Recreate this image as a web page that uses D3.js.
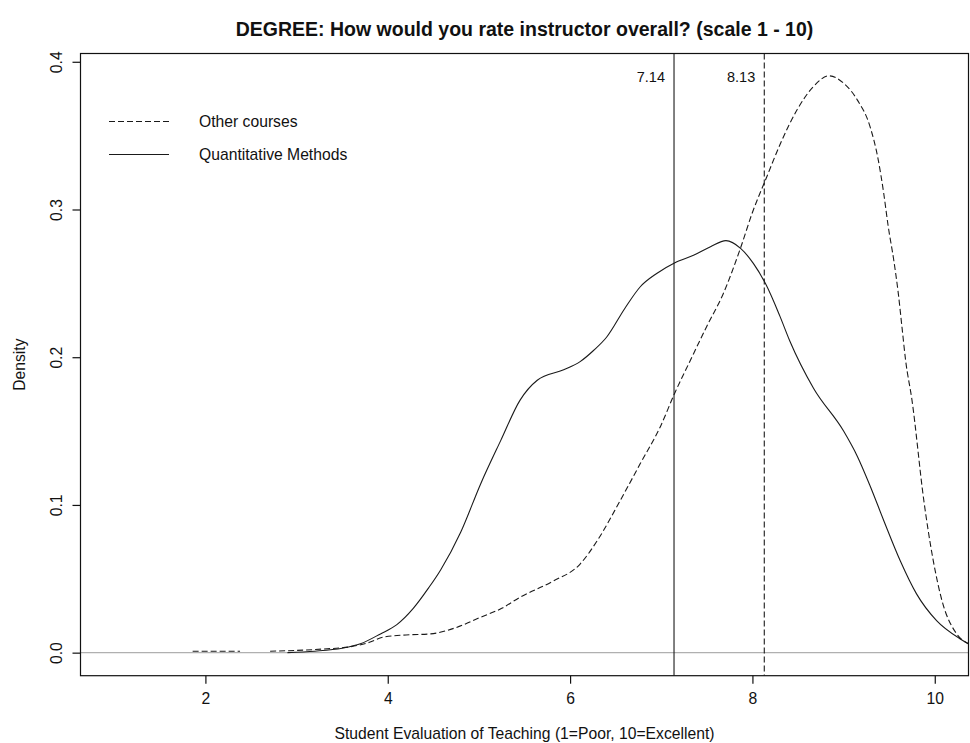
<!DOCTYPE html>
<html>
<head>
<meta charset="utf-8">
<script src="https://cdn.jsdelivr.net/npm/d3@7"></script>
<style>
  body { margin: 0; background: #fff; }
  text { font-family: "Liberation Sans", Arial, sans-serif; fill: #111; }
</style>
</head>
<body>
<div id="chart"></div>
<script>
var svgWidth = 970;
var svgHeight = 743;

// plot box (R style, box drawn around the region)
var box = { left: 80.5, right: 968.5, top: 53.5, bottom: 675.7 };

var titleText = "DEGREE: How would you rate instructor overall? (scale 1 - 10)";
var xTitle = "Student Evaluation of Teaching (1=Poor, 10=Excellent)";
var yTitle = "Density";

var xTicks = [2, 4, 6, 8, 10];
var yTicks = [0, 0.1, 0.2, 0.3, 0.4];

// Other courses (dashed) density, null = gap in the curve
var otherX = [1.86, 2.38, null, 2.71, 3.00, 3.30, 3.59, 3.80, 3.95, 4.20, 4.47, 4.75, 5.02, 5.25, 5.45, 5.80, 6.11, 6.30, 6.55, 6.77, 6.99, 7.15, 7.32, 7.50, 7.68, 7.87, 8.00, 8.15, 8.31, 8.49, 8.67, 8.84, 9.00, 9.15, 9.29, 9.38, 9.44, 9.49, 9.55, 9.60, 9.64, 9.68, 9.75, 9.88, 10.08, 10.24, 10.37, 10.50];
var otherY = [0.001, 0.001, null, 0.001, 0.0015, 0.0025, 0.004, 0.007, 0.0105, 0.012, 0.0127, 0.017, 0.024, 0.030, 0.0375, 0.048, 0.060, 0.076, 0.103, 0.128, 0.153, 0.176, 0.198, 0.221, 0.243, 0.274, 0.298, 0.321, 0.345, 0.3675, 0.3833, 0.3905, 0.3855, 0.3742, 0.3561, 0.3336, 0.311, 0.2883, 0.2658, 0.2432, 0.2206, 0.198, 0.171, 0.103, 0.035, 0.0127, 0.0059, 0.002];

// Quantitative Methods (solid) density
var quantX = [2.90, 3.20, 3.50, 3.70, 3.92, 4.10, 4.28, 4.45, 4.58, 4.80, 5.02, 5.24, 5.45, 5.64, 5.93, 6.11, 6.26, 6.40, 6.60, 6.77, 6.95, 7.15, 7.36, 7.54, 7.71, 7.87, 8.01, 8.15, 8.30, 8.41, 8.67, 9.00, 9.15, 9.29, 9.44, 9.62, 9.80, 10.02, 10.28, 10.37, 10.50];
var quantY = [0.000, 0.001, 0.003, 0.006, 0.0127, 0.019, 0.030, 0.044, 0.056, 0.0815, 0.1144, 0.1437, 0.1708, 0.1844, 0.1915, 0.197, 0.2047, 0.2135, 0.233, 0.2477, 0.2567, 0.264, 0.2692, 0.2748, 0.2789, 0.2737, 0.2635, 0.249, 0.228, 0.211, 0.179, 0.150, 0.133, 0.113, 0.0895, 0.0624, 0.0398, 0.0217, 0.0093, 0.006, 0.003];

var quantMean = 7.14;
var otherMean = 8.13;

var legendLabels = ["Other courses", "Quantitative Methods"];
var legendDash = ["6,3", null];

var svg = d3.select("#chart")
            .append("svg")
            .attr("width", svgWidth)
            .attr("height", svgHeight);

var x = d3.scaleLinear().domain([0.63, 10.37]).range([box.left, box.right]);
var y = d3.scaleLinear().domain([-0.0156, 0.4056]).range([box.bottom, box.top]);

svg.append("clipPath").attr("id", "plotclip")
   .append("rect")
   .attr("x", box.left).attr("y", box.top)
   .attr("width", box.right - box.left).attr("height", box.bottom - box.top);

var plot = svg.append("g").attr("clip-path", "url(#plotclip)");

// zero reference line
plot.append("line")
    .attr("x1", box.left).attr("x2", box.right)
    .attr("y1", y(0)).attr("y2", y(0))
    .attr("stroke", "#b0b0b0").attr("stroke-width", 1.2);

function toPoints(xs, ys) {
    return xs.map((d, i) => d === null ? null : [d, ys[i]]);
}

var line = d3.line()
             .defined(d => d !== null)
             .x(d => x(d[0]))
             .y(d => y(d[1]))
             .curve(d3.curveMonotoneX);

plot.append("path")
    .attr("d", line(toPoints(otherX, otherY)))
    .attr("fill", "none").attr("stroke", "#1a1a1a").attr("stroke-width", 1.1)
    .attr("stroke-dasharray", "6,3");

plot.append("path")
    .attr("d", line(toPoints(quantX, quantY)))
    .attr("fill", "none").attr("stroke", "#1a1a1a").attr("stroke-width", 1.1);

// mean lines
plot.append("line")
    .attr("x1", x(quantMean)).attr("x2", x(quantMean))
    .attr("y1", box.top).attr("y2", box.bottom)
    .attr("stroke", "#1a1a1a").attr("stroke-width", 1.1);
plot.append("line")
    .attr("x1", x(otherMean)).attr("x2", x(otherMean))
    .attr("y1", box.top).attr("y2", box.bottom)
    .attr("stroke", "#1a1a1a").attr("stroke-width", 1.1)
    .attr("stroke-dasharray", "6,3");

svg.append("text")
   .attr("x", x(quantMean) - 9).attr("y", 82)
   .attr("text-anchor", "end").attr("font-size", "14.5px")
   .text(quantMean.toFixed(2));
svg.append("text")
   .attr("x", x(otherMean) - 9).attr("y", 82)
   .attr("text-anchor", "end").attr("font-size", "14.5px")
   .text(otherMean.toFixed(2));

// box
svg.append("rect")
   .attr("x", box.left).attr("y", box.top)
   .attr("width", box.right - box.left).attr("height", box.bottom - box.top)
   .attr("fill", "none").attr("stroke", "#111").attr("stroke-width", 1.2);

// axes
var bottomAxis = d3.axisBottom(x).tickValues(xTicks).tickSize(8).tickPadding(9.5).tickSizeOuter(0)
                   .tickFormat(d3.format("d"));
var xAxis = svg.append("g")
               .attr("transform", `translate(0, ${box.bottom})`)
               .call(bottomAxis);
xAxis.select(".domain").remove();
xAxis.selectAll("line").attr("stroke", "#111").attr("stroke-width", 1.2);
xAxis.selectAll("text").attr("font-size", "15.7px").attr("font-family", "Liberation Sans, Arial, sans-serif").attr("fill", "#111");

var leftAxis = d3.axisLeft(y).tickValues(yTicks).tickSize(8).tickSizeOuter(0)
                 .tickFormat(d3.format(".1f"));
var yAxis = svg.append("g")
               .attr("transform", `translate(${box.left}, 0)`)
               .call(leftAxis);
yAxis.select(".domain").remove();
yAxis.selectAll("line").attr("stroke", "#111").attr("stroke-width", 1.2);
yAxis.selectAll("text")
     .attr("x", 0).attr("y", -19).attr("dy", null)
     .attr("transform", "rotate(-90)")
     .attr("text-anchor", "middle")
     .attr("font-size", "15.7px").attr("font-family", "Liberation Sans, Arial, sans-serif").attr("fill", "#111");

// titles
svg.append("text")
   .attr("x", (box.left + box.right) / 2).attr("y", 36)
   .attr("text-anchor", "middle").attr("font-size", "19.5px").attr("font-weight", "bold")
   .text(titleText);

svg.append("text")
   .attr("x", (box.left + box.right) / 2).attr("y", 739)
   .attr("text-anchor", "middle").attr("font-size", "15.7px")
   .text(xTitle);

svg.append("text")
   .attr("transform", `translate(25, ${(box.top + box.bottom) / 2}) rotate(-90)`)
   .attr("text-anchor", "middle").attr("font-size", "15.7px")
   .text(yTitle);

// legend
var legend = svg.append("g");
var legendY = [121.5, 154.5];
legendLabels.forEach(function(label, i) {
    legend.append("line")
          .attr("x1", 109).attr("x2", 169)
          .attr("y1", legendY[i]).attr("y2", legendY[i])
          .attr("stroke", "#1a1a1a").attr("stroke-width", 1.1)
          .attr("stroke-dasharray", legendDash[i]);
    legend.append("text")
          .attr("x", 199).attr("y", legendY[i] + 5.6)
          .attr("font-size", "15.7px")
          .text(label);
});
</script>
</body>
</html>
